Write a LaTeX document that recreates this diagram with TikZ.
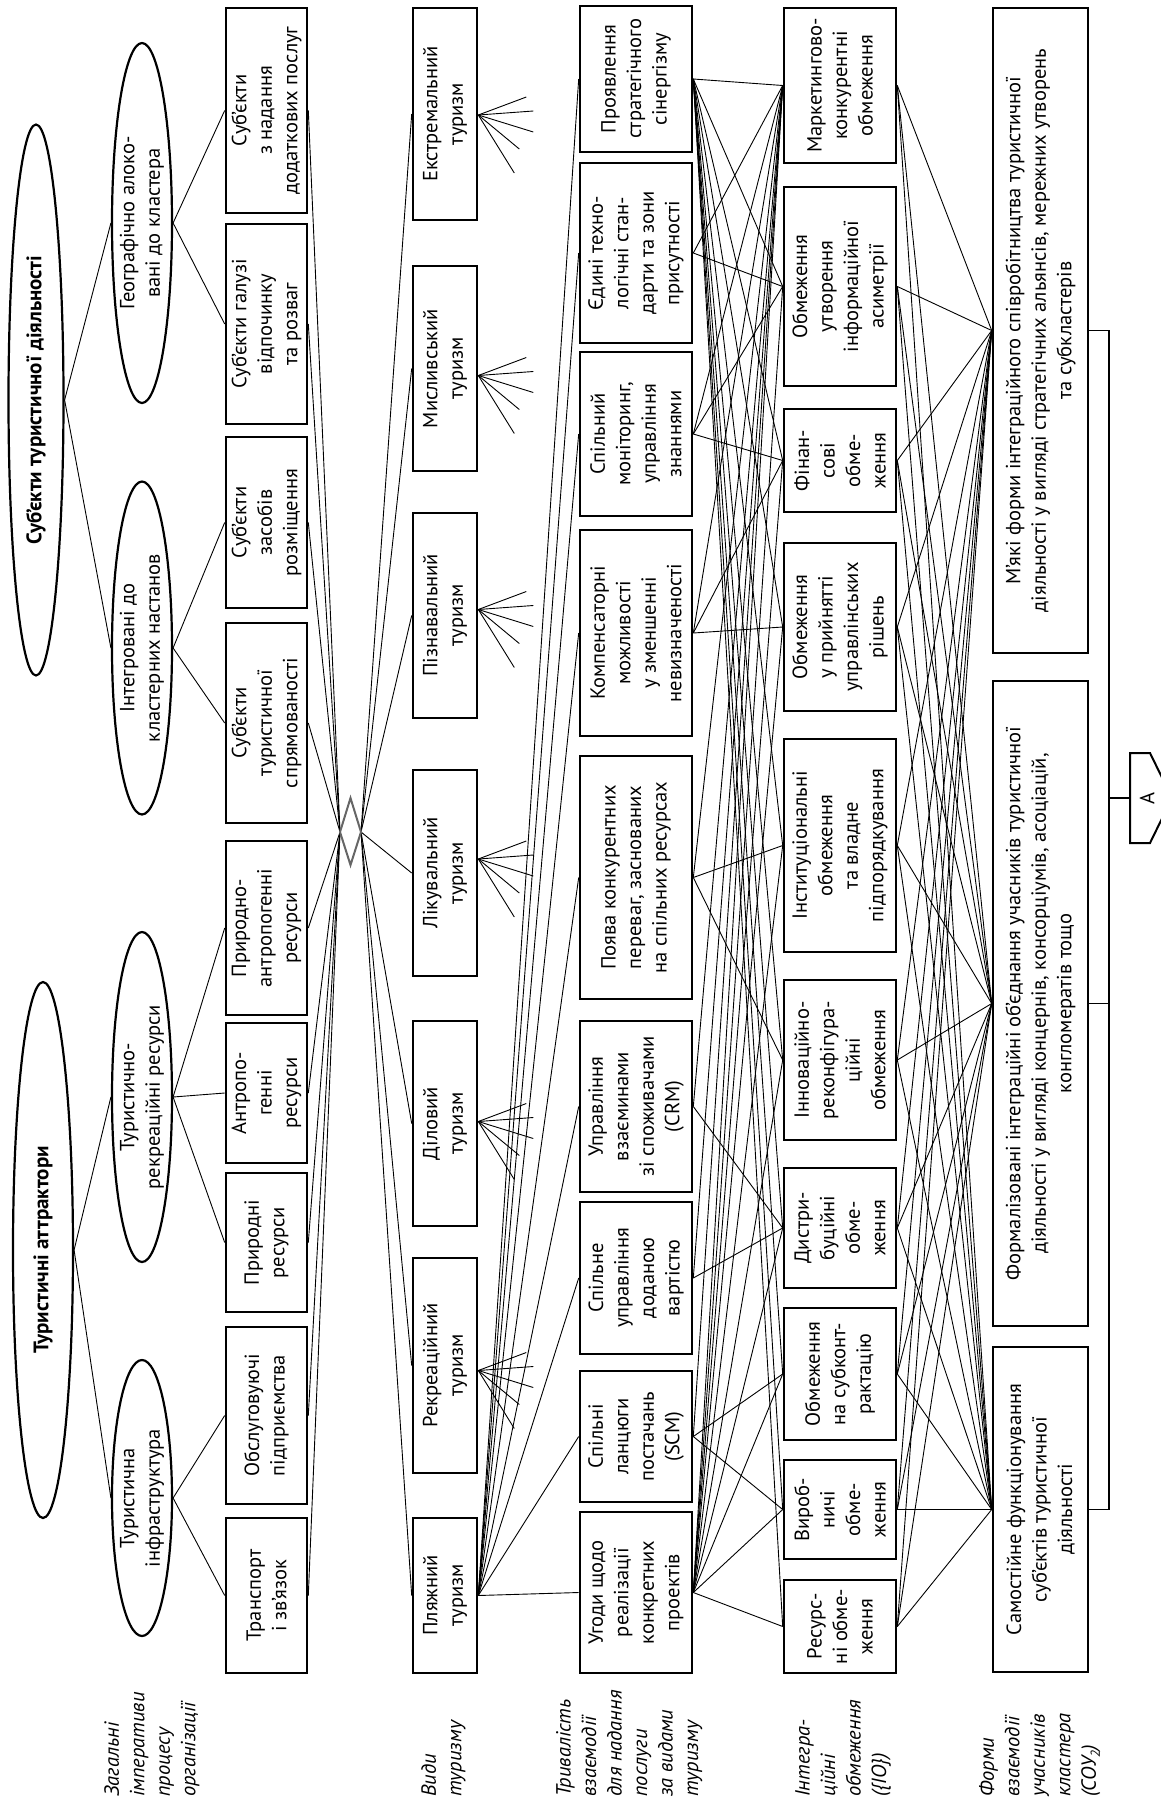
\documentclass[tikz,border=0pt]{standalone}
\usepackage{fontspec}
\setmainfont{PT Sans}
\usetikzlibrary{calc,shapes.geometric}
\newcommand\dfont{\fontsize{20.5}{25.5}\selectfont}
\newcommand\tfont{\fontsize{21}{25.5}\selectfont\bfseries}
\begin{document}
\begin{tikzpicture}[x=1pt,y=-1pt,
  box/.style={draw, line width=2.6pt, rotate=90, align=center, inner sep=0pt, font=\dfont},
  ell/.style={draw, ellipse, line width=2.2pt, rotate=90, inner sep=0pt},
  etext/.style={rotate=90, align=center, inner sep=0pt, font=\dfont},
  lab/.style={rotate=90, align=left, anchor=north west, inner sep=0pt, font=\dfont\itshape},
  conn/.style={line width=0.9pt},
  ray/.style={line width=0.9pt},
]
\useasboundingbox (0,0) rectangle (1160,1807);

% ---------- level 1 ellipses
\node[ell, minimum width=551pt, minimum height=55pt] (sub) at (36,400) {};
\node[etext, font=\tfont] at (sub) {Суб’єкти туристичної діяльності};
\node[ell, minimum width=536pt, minimum height=60pt] (att) at (43,1250) {};
\node[etext, font=\tfont] at (att) {Туристичні аттрактори};

% ---------- level 2 ellipses
\node[ell, minimum width=360pt, minimum height=60pt] (geo) at (142,223) {};
\node[etext] at (geo) {Географічно алоко-\\вані до кластера};
\node[ell, minimum width=333pt, minimum height=60pt] (int) at (142,648) {};
\node[etext] at (int) {Інтегровані до\\кластерних настанов};
\node[ell, minimum width=330pt, minimum height=60pt] (trr) at (142,1097) {};
\node[etext] at (trr) {Туристично-\\рекреаційні ресурси};
\node[ell, minimum width=276pt, minimum height=60pt] (inf) at (142,1498) {};
\node[etext] at (inf) {Туристична\\інфраструктура};

% ---------- level 3 boxes
\node[box, minimum width=205pt, minimum height=81pt] (b31) at (266.5,110.5) {Суб’єкти\\з надання\\додаткових послуг};
\node[box, minimum width=200pt, minimum height=81pt] (b32) at (266.5,324) {Суб’єкти галузі\\відпочинку\\та розваг};
\node[box, minimum width=171pt, minimum height=81pt] (b33) at (266.5,522.5) {Суб’єкти\\засобів\\розміщення};
\node[box, minimum width=200pt, minimum height=81pt] (b34) at (266.5,723) {Суб’єкти\\туристичної\\спрямованості};
\node[box, minimum width=174pt, minimum height=81pt] (b35) at (266.5,928) {Природно-\\антропогенні\\ресурси};
\node[box, minimum width=140pt, minimum height=81pt] (b36) at (266.5,1093) {Антропо-\\генні\\ресурси};
\node[box, minimum width=139pt, minimum height=81pt] (b37) at (266.5,1242.5) {Природні\\ресурси};
\node[box, minimum width=177pt, minimum height=81pt] (b38) at (266.5,1415.5) {Обслуговуючі\\підприємства};
\node[box, minimum width=155pt, minimum height=81pt] (b39) at (266.5,1595.5) {Транспорт\\і зв’язок};

% ---------- diamond
\coordinate (dl) at (340,832);
\coordinate (dr) at (361,832);
\coordinate (dt) at (350.5,798);
\coordinate (db) at (350.5,865);

% ---------- level 4 boxes
\node[box, minimum width=212pt, minimum height=64pt] (t1) at (445,114) {Екстремальний\\туризм};
\node[box, minimum width=205pt, minimum height=64pt] (t2) at (445,368.5) {Мисливський\\туризм};
\node[box, minimum width=205pt, minimum height=64pt] (t3) at (445,615.5) {Пізнавальний\\туризм};
\node[box, minimum width=206pt, minimum height=64pt] (t4) at (445,873) {Лікувальний\\туризм};
\node[box, minimum width=205pt, minimum height=64pt] (t5) at (445,1123.5) {Діловий\\туризм};
\node[box, minimum width=215pt, minimum height=64pt] (t6) at (445,1365.5) {Рекреаційний\\туризм};
\node[box, minimum width=155pt, minimum height=64pt] (t7) at (445,1595.5) {Пляжний\\туризм};

% ---------- level 5 boxes
\node[box, minimum width=146pt, minimum height=112pt] (p9) at (636,79) {Проявлення\\стратегічного\\сінергізму};
\node[box, minimum width=180pt, minimum height=112pt] (p8) at (636,253) {Єдині техно-\\логічні стан-\\дарти та зони\\присутності};
\node[box, minimum width=164pt, minimum height=112pt] (p7) at (636,434) {Спільний\\моніторинг,\\управління\\знаннями};
\node[box, minimum width=206pt, minimum height=112pt] (p6) at (636,633) {Компенсаторні\\можливості\\у зменшенні\\невизначеності};
\node[box, minimum width=243pt, minimum height=112pt] (p5) at (636,877.5) {Поява конкурентних\\переваг, заснованих\\на спільних ресурсах};
\node[box, minimum width=171pt, minimum height=112pt] (p4) at (636,1106.5) {Управління\\взаєминами\\зі споживачами\\(CRM)};
\node[box, minimum width=152pt, minimum height=112pt] (p3) at (636,1278) {Спільне\\управління\\доданою\\вартістю};
\node[box, minimum width=131pt, minimum height=112pt] (p2) at (636,1436.5) {Спільні\\ланцюги\\постачань\\(SCM)};
\node[box, minimum width=161pt, minimum height=112pt] (p1) at (636,1592.5) {Угоди щодо\\реалізації\\конкретних\\проектів};

% ---------- level 6 boxes
\node[box, minimum width=155pt, minimum height=112pt] (c10) at (840,85.5) {Маркетингово-\\конкурентні\\обмеження};
\node[box, minimum width=199pt, minimum height=112pt] (c9) at (840,286.5) {Обмеження\\утворення\\інформаційної\\асиметрії};
\node[box, minimum width=103pt, minimum height=112pt] (c8) at (840,460.5) {Фінан-\\сові\\обме-\\ження};
\node[box, minimum width=168pt, minimum height=112pt] (c7) at (840,627) {Обмеження\\у прийнятті\\управлінських\\рішень};
\node[box, minimum width=213pt, minimum height=112pt] (c6) at (840,845.5) {Інституціональні\\обмеження\\та владне\\підпорядкування};
\node[box, minimum width=160pt, minimum height=112pt] (c5) at (840,1060) {Інноваційно-\\реконфігура-\\ційні\\обмеження};
\node[box, minimum width=120pt, minimum height=112pt] (c4) at (840,1228) {Дистри-\\буційні\\обме-\\ження};
\node[box, minimum width=132pt, minimum height=112pt] (c3) at (840,1374) {Обмеження\\на субконт-\\рактацію};
\node[box, minimum width=99pt, minimum height=112pt] (c2) at (840,1509.5) {Вироб-\\ничі\\обме-\\ження};
\node[box, minimum width=93pt, minimum height=112pt] (c1) at (840,1626.5) {Ресурс-\\ні обме-\\ження};

% ---------- level 7 boxes
\node[box, minimum width=645pt, minimum height=95pt] (f3) at (1040.5,330.5) {М’які форми інтеграційного співробітництва туристичної\\діяльності у вигляді стратегічних альянсів, мережних утворень\\та субкластерів};
\node[box, minimum width=645pt, minimum height=95pt] (f2) at (1040.5,1003.5) {Формалізовані інтеграційні об’єднання учасників туристичної\\діяльності у вигляді концернів, консорціумів, асоціацій,\\конгломератів тощо};
\node[box, minimum width=325pt, minimum height=95pt] (f1) at (1040.5,1509.5) {Самостійне функціонування\\суб’єктів туристичної\\діяльності};

% ---------- row labels
\node[lab] (l1) at (104,1797) {Загальні\\імперативи\\процесу\\організації};
\node[lab] (l2) at (421,1797) {Види\\туризму};
\node[lab] (l3) at (556,1797) {Тривалість\\взаємодії\\для надання\\послуги\\за видами\\туризму};
\node[lab] (l4) at (795,1797) {Інтегра-\\ційні\\обмеження\\(\{ІО\})};
\node[lab] (l5) at (979,1797) {Форми\\взаємодії\\учасників\\кластера\\(СОУ{\fontsize{13}{13}\selectfont\raisebox{-4pt}{2}})};

% ---------- connectors level 1 -> 2 -> 3
\draw[conn] (sub.south) -- (geo.north);
\draw[conn] (sub.south) -- (int.north);
\draw[conn] (att.south) -- (trr.north);
\draw[conn] (att.south) -- (inf.north);
\foreach \b in {b31,b32} \draw[conn] (geo.south) -- (\b.north);
\foreach \b in {b33,b34} \draw[conn] (int.south) -- (\b.north);
\foreach \b in {b35,b36,b37} \draw[conn] (trr.south) -- (\b.north);
\foreach \b in {b38,b39} \draw[conn] (inf.south) -- (\b.north);

% ---------- level 3 -> diamond -> level 4
\foreach \b in {b31,b32,b33,b34,b35,b36,b37,b38,b39} \draw[conn] (\b.south) -- (dl);
\foreach \t in {t1,t2,t3,t4,t5,t6,t7} \draw[conn] (dr) -- (\t.north);
\draw[line width=2pt, draw=black!60] (dl) -- (dt) -- (dr) -- (db) -- cycle;

% ---------- crow-foot rays
\foreach \t/\d in {t1/1,t2/7,t3/-6,t4/-14,t5/-2,t6/5}{
  \coordinate (o-\t) at ($(\t.south)+(0,\d)$);
  \foreach \a/\b in {48/-18,55/-4,55/17,41/34,36/58}
    \draw[ray] (o-\t) -- ++(\a,\b);
}

% ---------- level 4 -> level 5
\foreach \p in {p1,p2,p3,p4,p5,p6,p7,p8,p9} \draw[conn] (t7.south) -- (\p.north);

% ---------- level 5 -> level 6
\foreach \c in {c1,c2,c3,c4,c5,c6,c7,c8,c9,c10} \draw[conn] (p9.south) -- (\c.north);
\foreach \c in {c2,c3,c4,c5,c6,c7,c8,c9,c10} \draw[conn] (p1.south) -- (\c.north);
\foreach \p in {p2,p3,p4,p5,p6,p7,p8} \draw[conn] (\p.south) -- (c10.north);
\foreach \p/\c in {p8/c9,p7/c8,p7/c9,p6/c7,p6/c8,p5/c6,p5/c5,p4/c4,p3/c4,p2/c3,p2/c2,p1/c1}
  \draw[conn] (\p.south) -- (\c.north);

% ---------- level 6 -> level 7
\foreach \c in {c1,c2,c3,c4,c5,c6,c7,c8,c9,c10}
  \foreach \f in {f1,f2,f3} \draw[conn] (\c.south) -- (\f.north);

% ---------- bracket and off-page connector
\coordinate (brx) at (1109,0);
\coordinate (aL) at (1130,798);
\draw[line width=1.2pt] (f3.south) -- (f3.south -| brx) -- (f1.south -| brx) -- (f1.south);
\draw[line width=1.2pt] (f2.south) -- (f2.south -| brx);
\draw[line width=1.2pt] (aL -| brx) -- (aL);
\draw[line width=2pt, fill=white] (1130,753) -- (1150,753) -- (1172,798) -- (1150,843) -- (1130,843) -- cycle;
\node[rotate=90, font=\dfont, inner sep=0pt] (A) at (1147,798) {A};
\end{tikzpicture}
\end{document}
